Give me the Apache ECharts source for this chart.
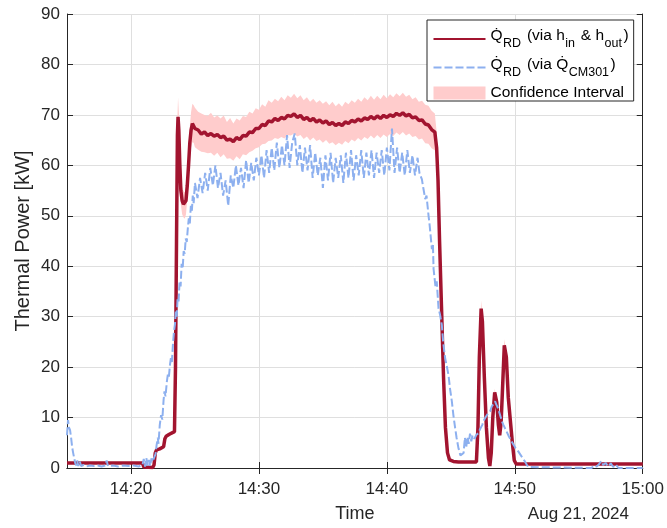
<!DOCTYPE html>
<html>
<head>
<meta charset="utf-8">
<script src="https://cdn.jsdelivr.net/npm/echarts@6/dist/echarts.min.js"></script>
<style>
html,body{margin:0;padding:0;background:#fff;}
#chart{width:667px;height:528px;}
</style>
</head>
<body>
<div id="chart"></div>
<script>
// Time in minutes after 14:00 (Aug 21, 2024)
const xTickValues = [20, 30, 40, 50, 60];
const xTickLabels = ['14:20', '14:30', '14:40', '14:50', '15:00'];
const dateLabel = 'Aug 21, 2024';

// Q_RD via h_in & h_out
const redT = [15.0,20.9,21.0,21.7,21.8,21.9,22.0,22.25,22.55,22.65,22.75,23.0,23.4,23.48,23.56,23.63,23.68,23.74,23.82,23.9,24.0,24.1,24.2,24.3,24.4,24.5,24.6,24.7,24.8,24.9,
25.0,25.25,25.5,25.75,26.0,26.25,26.5,26.75,27.0,27.25,27.5,27.75,28.0,28.25,28.5,28.75,29.0,29.25,29.5,29.75,
30.0,30.25,30.5,30.75,31.0,31.25,31.5,31.75,32.0,32.25,32.5,32.75,33.0,33.25,33.5,33.75,34.0,34.25,34.5,34.75,
35.0,35.25,35.5,35.75,36.0,36.25,36.5,36.75,37.0,37.25,37.5,37.75,38.0,38.25,38.5,38.75,39.0,39.25,39.5,39.75,
40.0,40.25,40.5,40.75,41.0,41.25,41.5,41.75,42.0,42.25,42.5,42.75,43.0,43.25,43.5,43.75,
43.89,44.0,44.12,44.27,44.43,44.58,44.74,44.9,45.05,45.2,45.6,47.0,47.12,47.23,47.37,47.47,47.62,47.78,47.94,48.05,48.16,48.28,48.43,48.59,48.72,48.82,48.93,49.03,49.18,49.34,49.49,49.65,49.81,49.96,50.11,60.0];
const redV = [1.0,1.0,0.2,0.1,0.6,3.0,3.6,3.8,4.2,5.8,6.3,6.7,7.2,20,45,66,69.6,67,60,55,53,52.3,52,53,56,60,64.5,67,68.3,68.2,
67.3,67.0,66.2,66.6,65.9,66.3,65.8,66.1,65.5,65.8,65.0,65.2,64.7,65.5,65.1,65.9,65.8,66.6,66.5,67.3,
67.3,68.1,67.9,68.8,68.6,69.3,68.9,69.5,69.2,69.9,69.7,70.2,69.5,69.9,69.1,69.5,68.8,69.3,68.6,69.0,
68.4,68.8,68.1,68.5,67.9,68.3,67.9,68.6,68.3,68.9,68.6,69.2,68.8,69.4,69.1,69.7,69.2,69.8,69.3,69.9,
69.5,70.0,69.7,70.3,69.9,70.4,69.8,70.1,69.4,69.6,68.9,69.0,68.2,68.0,67.1,66.6,
63.5,57,45,32,18,8,3,1.6,1.9,1.3,1.2,1.2,8,22,31.6,29,18,8,2,0.4,3,10,15,13,8.5,6.5,9,15,24.3,22,14,9.5,5,1.5,0.8,0.8];

// Confidence interval (same time points as redT)
const ciLow = [0.95,0.95,0.19,0.09,0.57,2.85,3.4,3.6,4.0,5.5,6.0,6.35,6.85,19,42.8,62.5,66.1,63.6,57,52.2,50.3,49.7,49.4,50.3,53.2,57,61.3,63.6,64.6,64.5,
63.6,63.1,62.7,62.6,62.4,62.5,61.9,62.5,61.6,62.2,61.3,61.4,60.9,61.8,61.2,62.2,62.0,62.6,62.9,63.4,
63.6,64.2,64.3,64.8,64.9,65.4,65.2,65.6,65.3,66.0,65.9,66.3,65.7,66.0,65.2,65.7,64.9,65.5,64.8,65.1,
64.5,65.0,64.3,64.6,64.0,64.5,64.1,64.8,64.4,65.1,64.7,65.4,64.9,65.6,65.2,65.9,65.3,66.0,65.4,66.1,
65.6,66.2,65.8,66.5,66.0,66.6,65.9,66.3,65.6,65.8,65.1,65.3,64.4,64.3,63.4,63.0,
60.3,54.2,42.8,30.4,17.1,7.6,2.85,1.52,1.8,1.23,1.14,1.14,7.6,20.9,30.0,27.6,17.1,7.6,1.9,0.38,2.85,9.5,14.25,12.35,8.1,6.2,8.55,14.25,23.1,20.9,13.3,9.0,4.75,1.43,0.76,0.76];
const ciHigh = [1.05,1.05,0.21,0.11,0.63,3.15,3.8,4.0,4.4,6.1,6.6,7.05,7.55,21,47.3,69.5,73.5,70.4,63,57.8,55.7,54.9,54.6,55.7,58.8,63,67.7,70.6,72.2,71.9,
71.4,70.6,70.3,70.0,69.8,70.4,69.5,69.9,69.3,69.9,68.6,69.4,68.3,69.3,68.9,69.8,69.6,70.6,70.3,71.3,
71.0,72.1,71.6,72.9,72.4,73.2,72.7,73.6,72.9,73.9,73.4,74.2,73.3,73.9,72.9,73.5,72.6,73.2,72.4,72.9,
72.2,72.7,71.9,72.6,71.7,72.3,71.6,72.6,72.1,72.9,72.4,73.2,72.6,73.5,72.9,73.8,73.0,73.8,73.1,74.0,
73.3,74.1,73.5,74.3,73.7,74.4,73.6,74.0,73.1,73.5,72.6,72.8,72.0,71.8,70.8,70.3,
66.7,59.8,47.3,33.6,18.9,8.4,3.15,1.68,2.0,1.37,1.26,1.26,8.4,23.1,33.2,30.4,18.9,8.4,2.1,0.42,3.15,10.5,15.75,13.65,8.9,6.8,9.45,15.75,25.5,23.1,14.7,10.0,5.25,1.57,0.84,0.84];

// Q_RD via Q_CM301
const blueT = [15.0,15.08,15.16,15.24,15.32,15.4,15.48,15.56,15.64,15.72,15.8,15.88,16.0,16.1,16.3,16.5,16.8,17.1,17.4,17.7,18.0,18.1,18.2,18.6,19.0,19.4,19.8,20.2,20.6,20.9,21.0,21.1,21.2,21.3,21.4,21.5,21.6,21.7,
21.8,21.93,22.0,22.1,22.15,22.25,22.35,22.45,22.55,22.62,22.7,22.8,22.88,22.96,23.05,23.12,23.2,23.28,23.36,23.44,23.5,23.58,23.64,23.72,23.8,23.88,23.96,24.04,24.12,24.2,24.28,24.36,24.44,24.52,24.6,24.68,24.76,24.83,24.9,
25.0,25.2,25.4,25.6,25.8,26.0,26.2,26.4,26.6,26.8,27.0,27.2,27.4,27.6,27.8,28.0,28.2,28.4,28.6,28.8,29.0,29.2,29.4,29.6,29.8,
30.0,30.2,30.4,30.6,30.8,31.0,31.2,31.4,31.6,31.8,32.0,32.2,32.4,32.6,32.8,33.0,33.2,33.4,33.6,33.8,34.0,34.2,34.4,34.6,34.8,
35.0,35.2,35.4,35.6,35.8,36.0,36.2,36.4,36.6,36.8,37.0,37.2,37.4,37.6,37.8,38.0,38.2,38.4,38.6,38.8,39.0,39.2,39.4,39.6,39.8,
40.0,40.2,40.4,40.6,40.8,41.0,41.2,41.4,41.6,41.8,42.0,42.2,42.4,42.55,42.74,42.85,43.0,43.1,43.26,43.35,43.52,43.6,43.65,43.8,43.9,
44.04,44.15,44.3,44.4,44.56,44.7,44.82,44.95,45.08,45.2,45.34,45.45,45.6,45.75,45.86,46.0,46.1,46.2,46.3,46.4,46.5,46.6,46.7,46.85,
47.0,47.16,47.3,47.45,47.6,47.75,47.9,48.07,48.2,48.35,48.46,48.55,48.7,48.85,49.0,49.1,49.23,49.4,49.55,49.75,49.9,
50.05,50.27,50.5,50.65,50.79,50.95,51.05,51.2,56.0,56.2,56.4,56.6,56.75,56.9,57.1,57.3,57.5,57.7,57.9,58.1,60.0];
const blueV = [6.5,9.5,8.0,7.5,6.0,4.2,3.0,2.0,1.0,0.5,1.5,0.4,1.3,0.4,0.6,0.3,0.5,0.4,0.5,0.3,0.5,1.5,0.4,0.5,0.3,0.5,0.4,0.5,0.3,0.6,1.8,0.3,2.0,0.5,1.6,0.4,1.9,1.2,
2.0,2.8,4.5,6.0,4.8,8.5,10.5,9.6,13.5,15.2,14.2,17.0,18.5,18.0,20.5,21.8,21.0,24.5,27.0,28.5,31.0,30.0,33.5,33.0,37.0,36.0,40.5,39.5,43.0,42.5,45.5,44.8,47.4,49.5,48.5,52.0,51.0,54.0,52.5,
56.5,53.5,57.5,54.5,58.5,55.0,59.5,56.0,60.0,55.5,58.5,54.0,57.0,52.0,58.0,55.5,60.0,56.0,59.5,55.5,61.0,56.5,60.5,57.0,61.5,
58.0,62.0,57.5,63.0,58.5,63.5,59.0,64.5,59.5,64.0,60.0,66.0,59.5,64.5,66.3,60.0,64.0,58.5,63.5,59.0,64.0,57.5,62.5,58.0,61.5,
55.5,62.0,57.0,62.5,56.5,61.5,57.5,62.0,56.5,62.5,57.5,63.0,57.0,62.0,58.0,63.0,57.5,62.5,58.0,63.0,57.5,62.5,58.5,63.0,58.0,
63.5,59.0,67.3,58.5,63.5,58.5,62.5,58.0,63.0,58.5,62.0,58.0,61.5,58.5,57.2,55.5,53.3,54.0,50.0,48.0,43.4,44.5,39.5,36.0,37.0,
31.6,30.5,28.3,25.0,21.7,20.0,18.4,15.5,13.2,10.5,7.9,6.0,3.9,2.5,2.6,3.0,6.0,4.0,6.2,4.8,6.8,5.3,6.5,5.8,
6.6,6.9,7.8,8.5,9.5,10.2,10.8,11.2,12.2,12.8,13.2,12.6,11.8,10.5,9.2,8.6,7.9,7.0,6.2,5.3,4.6,
4.0,3.3,2.4,1.8,1.3,0.6,0.2,0.0,0.0,0.5,0.3,0.8,1.4,0.6,1.0,0.3,0.9,0.2,0.7,0.0,0.0];

if (redT.length !== redV.length || redT.length !== ciLow.length || redT.length !== ciHigh.length) console.error('red/ci length mismatch', redT.length, redV.length, ciLow.length, ciHigh.length);
if (blueT.length !== blueV.length) console.error('blue length mismatch', blueT.length, blueV.length);

const nameRed = 'QRD via hin & hout';
const nameBlue = 'QRD via QCM301';
const nameCI = 'Confidence Interval';

const RED = '#A2142F';
const BLUE = '#8DB0EF';
const PINK = '#FFCCCC';
const AX = '#262626';
const FONT = '"Liberation Sans", Arial, sans-serif';

const chart = echarts.init(document.getElementById('chart'), null, {renderer: 'canvas'});

const redData = redT.map((t, i) => [t, redV[i]]);
const blueData = blueT.map((t, i) => [t, blueV[i]]);
const ciData = redT.map((t, i) => [t, ciLow[i], ciHigh[i]]);

const commonX = {
  type: 'value', min: 15, max: 60,
  axisLine: {show: true, lineStyle: {color: AX, width: 1}},
  axisTick: {show: true, inside: true, length: 6, customValues: xTickValues, lineStyle: {color: AX}},
  splitLine: {show: false}
};

chart.setOption({
  animation: false,
  textStyle: {fontFamily: FONT},
  grid: {left: 67, right: 22, top: 14, bottom: 58, containLabel: false},
  xAxis: [
    Object.assign({}, commonX, {
      position: 'bottom',
      name: 'Time', nameLocation: 'middle', nameGap: 37, nameMoveOverlap: false,
      nameTextStyle: {fontSize: 18, color: AX, fontFamily: FONT},
      axisLabel: {show: true, customValues: xTickValues, fontSize: 17, color: AX, margin: 13, fontFamily: FONT,
        formatter: v => xTickLabels[xTickValues.indexOf(Math.round(v))] || ''},
      splitLine: {show: true, lineStyle: {color: '#dfdfdf', width: 1}}
    }),
    Object.assign({}, commonX, {position: 'top', axisLabel: {show: false}})
  ],
  yAxis: [
    {
      type: 'value', min: 0, max: 90, interval: 10, position: 'left',
      name: 'Thermal Power [kW]', nameLocation: 'middle', nameGap: 34, nameMoveOverlap: false,
      nameTextStyle: {fontSize: 20, color: AX, fontFamily: FONT},
      axisLine: {show: true, lineStyle: {color: AX, width: 1}},
      axisTick: {show: true, inside: true, length: 6, lineStyle: {color: AX}},
      axisLabel: {fontSize: 17, color: AX, margin: 7, fontFamily: FONT},
      splitLine: {show: true, lineStyle: {color: '#dfdfdf', width: 1}}
    },
    {
      type: 'value', min: 0, max: 90, interval: 10, position: 'right',
      axisLine: {show: true, lineStyle: {color: AX, width: 1}},
      axisTick: {show: true, inside: true, length: 6, lineStyle: {color: AX}},
      axisLabel: {show: false},
      splitLine: {show: false}
    }
  ],
  legend: {
    orient: 'vertical', left: 427, top: 20,
    padding: [8, 5, 0, 5.5],
    itemGap: 6, itemWidth: 52, itemHeight: 13,
    borderColor: AX, borderWidth: 1, backgroundColor: '#fff',
    data: [
      {name: nameRed, itemStyle: {opacity: 0}},
      {name: nameBlue, itemStyle: {opacity: 0}},
      {name: nameCI, icon: 'rect', itemStyle: {color: PINK}}
    ],
    formatter: function (name) {
      if (name === nameRed) return '{n|Q\u0307}{sub|RD}{n| (via h}{sub|in}{n| & h}{sub|out}{n|)}';
      if (name === nameBlue) return '{n|Q\u0307}{sub|RD}{n| (via Q\u0307}{sub|CM301}{n|)}';
      return '{ci|Confidence Interval}';
    },
    textStyle: {
      fontSize: 15.5, color: '#000', fontFamily: FONT,
      rich: {
        n: {fontSize: 15.5, padding: [0, 0, 6, 0], color: '#000', fontFamily: FONT},
        sub: {fontSize: 12.5, padding: [10, 1.5, 0, 0.5], color: '#000', fontFamily: FONT},
        ci: {fontSize: 15.5, lineHeight: 12, height: 12, color: '#000', fontFamily: FONT}
      }
    }
  },
  graphic: [{
    type: 'text', right: 38, top: 506,
    style: {text: dateLabel, fontSize: 17, fill: AX, font: '17px "Liberation Sans", Arial, sans-serif'}
  }],
  series: [
    {
      name: nameCI, type: 'custom', xAxisIndex: 0, yAxisIndex: 0,
      itemStyle: {color: PINK},
      data: ciData,
      encode: {x: 0, y: [1, 2]},
      renderItem: function (params, api) {
        if (params.dataIndex !== 0) return null;
        const pts = [];
        for (let i = 0; i < ciData.length; i++) pts.push(api.coord([ciData[i][0], ciData[i][2]]));
        for (let i = ciData.length - 1; i >= 0; i--) pts.push(api.coord([ciData[i][0], ciData[i][1]]));
        return {type: 'polygon', shape: {points: pts}, style: {fill: PINK}};
      },
      z: 1
    },
    {
      name: nameRed, type: 'line', data: redData, symbol: 'none',
      lineStyle: {color: RED, width: 3.5}, itemStyle: {color: RED}, z: 2
    },
    {
      name: nameBlue, type: 'line', data: blueData, symbol: 'none',
      lineStyle: {color: BLUE, width: 2, type: [8, 3]}, itemStyle: {color: BLUE}, z: 3
    }
  ]
});
</script>
</body>
</html>
